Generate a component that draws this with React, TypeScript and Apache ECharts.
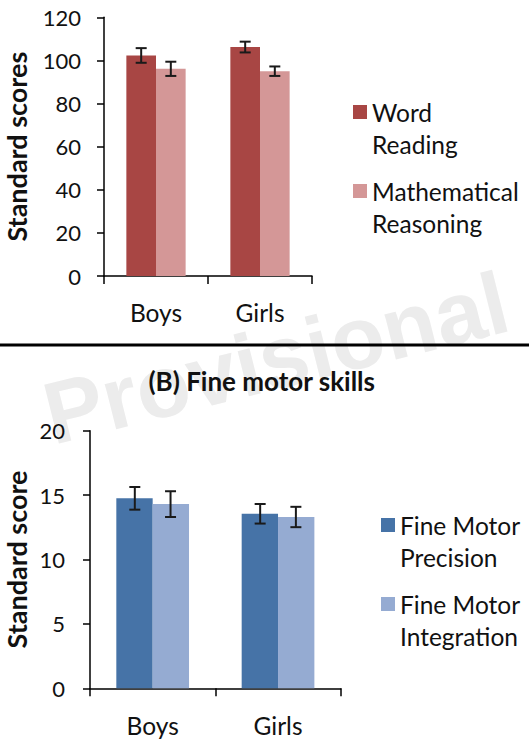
import React, { useEffect, useRef } from "react";
import * as echarts from "echarts";

const categories = ["Boys", "Girls"];
const wordReading = [102.3, 106.2];
const wordReadingErr = [3.4, 2.5];
const mathReasoning = [96.1, 95.0];
const mathReasoningErr = [3.3, 2.2];
const fmPrecision = [14.75, 13.55];
const fmPrecisionErr = [0.88, 0.76];
const fmIntegration = [14.3, 13.3];
const fmIntegrationErr = [1.0, 0.79];

const FONT = "Lato";
const GAP = 0.43;

function errData(vals: number[], errs: number[], slot: number) {
  return vals.map((v, i) => [i, v - errs[i], v + errs[i], slot]);
}

function errRender(params: any, api: any) {
  const idx = api.value(0);
  const lo = api.value(1);
  const hi = api.value(2);
  const slot = api.value(3);
  const band = api.size([1, 0])[0];
  const bw = (band * (1 - GAP)) / 2;
  const off = slot === 0 ? -bw / 2 : bw / 2;
  const pLo = api.coord([idx, lo]);
  const pHi = api.coord([idx, hi]);
  const x = pLo[0] + off;
  const cap = 5.5;
  const style = { stroke: "#1a1a1a", lineWidth: 2 };
  return {
    type: "group",
    children: [
      { type: "line", shape: { x1: x, y1: pLo[1], x2: x, y2: pHi[1] }, style },
      { type: "line", shape: { x1: x - cap, y1: pLo[1], x2: x + cap, y2: pLo[1] }, style },
      { type: "line", shape: { x1: x - cap, y1: pHi[1], x2: x + cap, y2: pHi[1] }, style },
    ],
  };
}

export default function App() {
  const ref = useRef<HTMLDivElement>(null);
  useEffect(() => {
    document.body.style.margin = "0";
    const chart = echarts.init(ref.current!, null, { renderer: "svg" });
    const axisLine = { show: true, lineStyle: { color: "#000", width: 1.5 } };
    const axisTick = { show: true, inside: false, length: 8, lineStyle: { color: "#000", width: 1.5 } };
    const numStyle = { color: "#111", fontSize: 22, fontFamily: FONT };
    const catStyle = { color: "#111", fontSize: 24.5, fontFamily: FONT };
    const legendText = {
      color: "#111",
      fontSize: 24.5,
      fontFamily: FONT,
      lineHeight: 32,
    };
    const nameStyle = { fontSize: 27, fontWeight: "bold", fontFamily: FONT, color: "#111" };
    const colors = ["#a84644", "#d49797", "#4673a7", "#95abd2"];
    const mkLegend = (name: string, text: string, left: number, top: number) => ({
      data: [name],
      formatter: () => "\n" + text,
      left,
      top,
      padding: 0,
      icon: "rect",
      itemWidth: 14,
      itemHeight: 14,
      itemGap: 0,
      textStyle: legendText,
    });
    const option: any = {
      animation: false,
      backgroundColor: "#fff",
      grid: [
        { left: 104, top: 17.3, width: 208, height: 258.7, outerBoundsMode: "none", containLabel: false },
        { left: 90, top: 430.7, width: 250.7, height: 257.6, outerBoundsMode: "none", containLabel: false },
      ],
      title: {
        text: "(B) Fine motor skills",
        left: 256.7,
        top: 363,
        textAlign: "center",
        textStyle: { fontSize: 26, fontWeight: "bold", fontFamily: FONT, color: "#111" },
      },
      legend: [
        mkLegend("Word Reading", "Word\nReading", 353, 64),
        mkLegend("Mathematical Reasoning", "Mathematical\nReasoning", 353, 143),
        mkLegend("Fine Motor Precision", "Fine Motor\nPrecision", 381, 477),
        mkLegend("Fine Motor Integration", "Fine Motor\nIntegration", 381, 556),
      ],
      xAxis: [
        {
          type: "category",
          gridIndex: 0,
          data: categories,
          axisLine,
          axisTick,
          axisLabel: { ...catStyle, margin: 24 },
        },
        {
          type: "category",
          gridIndex: 1,
          data: categories,
          axisLine,
          axisTick,
          axisLabel: { ...catStyle, margin: 25 },
        },
      ],
      yAxis: [
        {
          type: "value",
          gridIndex: 0,
          min: 0,
          max: 120,
          interval: 20,
          axisLine,
          axisTick: { ...axisTick, length: 7 },
          splitLine: { show: false },
          axisLabel: { ...numStyle, margin: 23 },
          name: "Standard scores",
          nameLocation: "middle",
          nameGap: 74,
          nameRotate: 90,
          nameMoveOverlap: false,
          nameTextStyle: nameStyle,
        },
        {
          type: "value",
          gridIndex: 1,
          min: 0,
          max: 20,
          interval: 5,
          axisLine,
          axisTick: { ...axisTick, length: 7 },
          splitLine: { show: false },
          axisLabel: { ...numStyle, margin: 25 },
          name: "Standard score",
          nameLocation: "middle",
          nameGap: 60,
          nameRotate: 90,
          nameMoveOverlap: false,
          nameTextStyle: nameStyle,
        },
      ],
      series: [
        {
          name: "Word Reading",
          type: "bar",
          xAxisIndex: 0,
          yAxisIndex: 0,
          data: wordReading,
          itemStyle: { color: colors[0] },
          barGap: "0%",
          barCategoryGap: "43%",
        },
        {
          name: "Mathematical Reasoning",
          type: "bar",
          xAxisIndex: 0,
          yAxisIndex: 0,
          data: mathReasoning,
          itemStyle: { color: colors[1] },
          barGap: "0%",
          barCategoryGap: "43%",
        },
        {
          name: "Fine Motor Precision",
          type: "bar",
          xAxisIndex: 1,
          yAxisIndex: 1,
          data: fmPrecision,
          itemStyle: { color: colors[2] },
          barGap: "0%",
          barCategoryGap: "42%",
        },
        {
          name: "Fine Motor Integration",
          type: "bar",
          xAxisIndex: 1,
          yAxisIndex: 1,
          data: fmIntegration,
          itemStyle: { color: colors[3] },
          barGap: "0%",
          barCategoryGap: "42%",
        },
        {
          type: "custom",
          xAxisIndex: 0,
          yAxisIndex: 0,
          renderItem: errRender,
          encode: { x: 0, y: [1, 2] },
          data: [...errData(wordReading, wordReadingErr, 0), ...errData(mathReasoning, mathReasoningErr, 1)],
          z: 5,
        },
        {
          type: "custom",
          xAxisIndex: 1,
          yAxisIndex: 1,
          renderItem: errRender,
          encode: { x: 0, y: [1, 2] },
          data: [...errData(fmPrecision, fmPrecisionErr, 0), ...errData(fmIntegration, fmIntegrationErr, 1)],
          z: 5,
        },
      ],
      graphic: [
        {
          type: "text",
          z: -10,
          x: 276,
          y: 358,
          rotation: (14 * Math.PI) / 180,
          style: {
            text: "Provisional",
            fontSize: 88,
            fontWeight: "bold",
            fontFamily: "Liberation Sans",
            fill: "#ececec",
            align: "center",
            verticalAlign: "middle",
          },
          silent: true,
        },
        {
          type: "line",
          z: 10,
          shape: { x1: 0, y1: 345, x2: 529, y2: 345 },
          style: { stroke: "#000", lineWidth: 3 },
        },
      ],
    };
    chart.setOption(option);
    return () => chart.dispose();
  }, []);
  return <div ref={ref} style={{ width: 529, height: 744 }} />;
}
